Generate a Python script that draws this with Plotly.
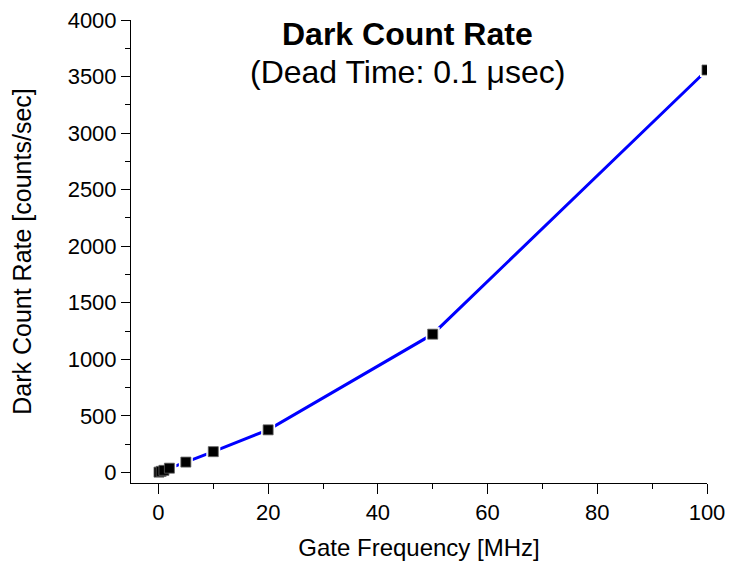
import plotly.graph_objects as go

gate_freq_mhz = [0.1, 0.5, 1, 2, 5, 10, 20, 50, 100]
dark_count_rate = [2, 9, 18, 37, 91, 183, 376, 1222, 3558]

x_ticks = [0, 20, 40, 60, 80, 100]
y_ticks = [0, 500, 1000, 1500, 2000, 2500, 3000, 3500, 4000]

title_text = "<b>Dark Count Rate</b>"
subtitle_text = "(Dead Time: 0.1 μsec)"
x_title = "Gate Frequency [MHz]"
y_title = "Dark Count Rate [counts/sec]"

FONT = "Liberation Sans, Arial, sans-serif"

fig = go.Figure()
fig.add_trace(go.Scatter(x=gate_freq_mhz, y=dark_count_rate, mode="lines",
                         line=dict(color="#0000FF", width=3), showlegend=False,
                         hoverinfo="skip"))
fig.add_trace(go.Scatter(x=gate_freq_mhz, y=dark_count_rate, mode="markers",
                         marker=dict(symbol="square", size=14, color="white",
                                     line=dict(width=0)), showlegend=False,
                         hoverinfo="skip"))
fig.add_trace(go.Scatter(x=gate_freq_mhz, y=dark_count_rate, mode="markers",
                         marker=dict(symbol="square", size=10, color="black",
                                     line=dict(color="#606060", width=0.8)),
                         showlegend=False))

plot_top, plot_bottom = 20, 569 - 86
def py(pixel):
    return (plot_bottom - pixel) / (plot_bottom - plot_top)

fig.update_layout(
    width=731, height=569,
    margin=dict(l=131, r=24, t=20, b=86, autoexpand=False),
    paper_bgcolor="white", plot_bgcolor="white",
    font=dict(family=FONT, color="black"),
    xaxis=dict(range=[-5, 100], tickvals=x_ticks, ticks="outside", ticklen=10,
               tickwidth=1, tickcolor="black", showline=True, linecolor="black",
               linewidth=1, showgrid=False, zeroline=False, automargin=False,
               tickfont=dict(size=22, family=FONT),
               title=dict(text=x_title, font=dict(size=24, family=FONT), standoff=14),
               minor=dict(dtick=10, tick0=0, ticks="outside", ticklen=5,
                          tickcolor="black", showgrid=False)),
    yaxis=dict(range=[-94, 4000], tickvals=y_ticks, ticks="outside", ticklen=9,
               tickwidth=1, tickcolor="black", showline=True, linecolor="black",
               linewidth=1, showgrid=False, zeroline=False, automargin=False,
               tickfont=dict(size=22, family=FONT),
               title=dict(text=y_title, font=dict(size=25, family=FONT), standoff=28),
               minor=dict(dtick=250, tick0=0, ticks="outside", ticklen=5,
                          tickcolor="black", showgrid=False)),
    annotations=[
        dict(text=title_text, x=0.48, y=py(34), xref="paper", yref="paper",
             yanchor="middle", showarrow=False, font=dict(size=32, family=FONT)),
        dict(text=subtitle_text, x=0.48, y=py(72), xref="paper", yref="paper",
             yanchor="middle", showarrow=False, font=dict(size=32, family=FONT)),
    ],
)

fig.write_html("out.html", config={"displayModeBar": False},
               post_script="document.body.style.margin='0';document.body.style.overflow='hidden';")
